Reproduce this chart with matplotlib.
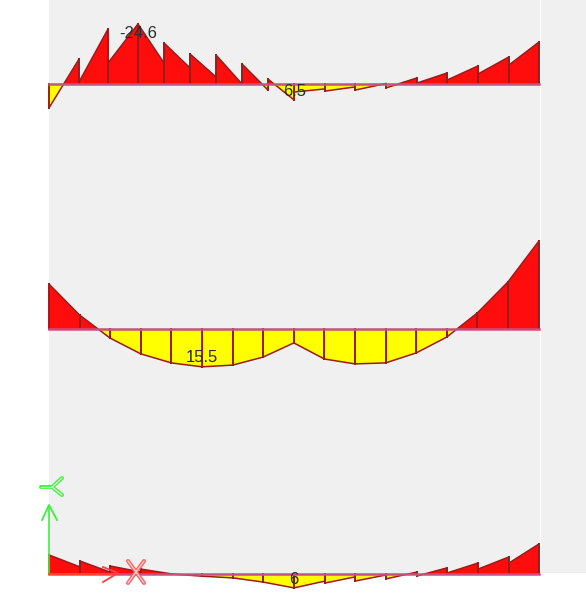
import matplotlib
matplotlib.use('Agg')
import matplotlib.pyplot as plt
from matplotlib.patches import Polygon, Rectangle

plt.rcParams['font.family'] = ['Liberation Sans', 'DejaVu Sans']

# stations along the beam
stations_top = [49, 79, 108, 138, 164, 190, 216, 242, 268, 294, 325, 355, 386, 417, 447, 478, 509, 539]
stations_mid = [49, 79.6, 110, 140.8, 171.4, 202, 232.6, 263.2, 293.8, 324.4, 355, 385.6, 416.2, 446.8, 477.4, 508, 539]
stations_bot = [49, 80, 110, 141, 172, 202, 233, 263, 294, 325, 355, 386, 417, 447, 478, 509, 539]

# moment values, start and end of every segment
top_start = [9.8, -0.8, -8.6, -24.6, -16.8, -12.3, -11.9, -8.2, -2.0, 3.3, 2.9, 2.5, 1.6, -0.4, -1.6, -4.1, -7.8]
top_end = [-10.2, -22.5, -24.6, -8.6, -6.6, -2.9, 0.0, 2.5, 6.5, 2.0, 1.2, -0.2, -2.5, -4.5, -7.4, -11.1, -17.2]

mid_values = [-18.4, -5.7, 3.7, 10.2, 13.9, 15.5, 14.8, 11.5, 5.7, 12.3, 14.3, 13.9, 9.8, 3.3, -6.6, -19.3, -36.1]

bot_start = [-7.8, -5.3, -3.3, -2.0, 0.0, 0.9, 1.6, 3.3, 5.7, 3.7, 2.9, 2.0, 0.8, -0.4, -2.0, -4.5]
bot_end = [-2.9, -0.8, -0.8, 0.0, 0.9, 1.6, 3.3, 5.7, 2.9, 1.2, 0.4, -0.8, -2.5, -4.5, -7.0, -12.3]

SCALE = 2.44
EDGE = '#9c1a1a'
BASE_COL = '#c4547c'


def draw_segment(ax, x0, x1, v0, v1, base):
    y0 = base + v0 * SCALE
    y1 = base + v1 * SCALE
    if v0 * v1 < 0:
        xc = x0 + (x1 - x0) * v0 / (v0 - v1)
        parts = [([(x0, base), (x0, y0), (xc, base)], v0), ([(xc, base), (x1, y1), (x1, base)], v1)]
    else:
        parts = [([(x0, base), (x0, y0), (x1, y1), (x1, base)], v0 + v1)]
    for pts, sign in parts:
        col = '#ff0d0d' if sign < 0 else '#ffff00'
        ax.add_patch(Polygon(pts, closed=True, facecolor=col, edgecolor='none', zorder=2))
    ax.plot([x0, x1], [y0, y1], color=EDGE, lw=1.1, zorder=3)
    ax.plot([x0, x0], [base, y0], color=EDGE, lw=1.4, zorder=3)
    ax.plot([x1, x1], [base, y1], color=EDGE, lw=1.4, zorder=3)


fig = plt.figure(figsize=(5.86, 6.13), dpi=100)
ax = fig.add_axes([0, 0, 1, 1])
ax.set_xlim(0, 586)
ax.set_ylim(613, 0)
ax.axis('off')

# background
ax.add_patch(Rectangle((49, 0), 490.5, 574, facecolor='#f0f0f0', edgecolor='none', zorder=0))
ax.add_patch(Rectangle((540.5, 0), 45.5, 573, facecolor='#f0f0f0', edgecolor='none', zorder=0))

# top diagram
for i in range(len(top_start)):
    draw_segment(ax, stations_top[i], stations_top[i + 1], top_start[i], top_end[i], 84)
ax.plot([49, 539], [84, 84], color=BASE_COL, lw=1.8, zorder=4)

# middle diagram
for i in range(len(mid_values) - 1):
    draw_segment(ax, stations_mid[i], stations_mid[i + 1], mid_values[i], mid_values[i + 1], 329)
ax.plot([49, 539], [329, 329], color=BASE_COL, lw=1.8, zorder=4)

# bottom diagram
for i in range(len(bot_start)):
    draw_segment(ax, stations_bot[i], stations_bot[i + 1], bot_start[i], bot_end[i], 574)
ax.plot([49, 539], [574, 574], color=BASE_COL, lw=1.8, zorder=4)

# labels
txt = dict(fontsize=12, color='#2b2b2b', ha='center', va='center', zorder=6)
ax.text(138, 34, '-24.6', **txt)
ax.text(294.5, 91.5, '6.5', **txt)
ax.text(202, 357.5, '15.5', **txt)
ax.text(294, 579.5, '6', **txt)

# axis triad
green = '#3cf03c'
ax.plot([49, 49], [574, 506], color=green, lw=1.2, zorder=5)
ax.plot([42, 49, 57], [520, 505, 520], color=green, lw=1.3, zorder=5)
red = '#ff4040'
ax.plot([49, 118], [574, 574], color=red, lw=1.2, zorder=5)
ax.plot([103, 118, 103], [567, 573, 582], color=red, lw=1.3, zorder=5)

# hollow glyphs at the axis ends
for xs, ys in [([41, 52], [487, 487]), ([52, 62], [487, 478]), ([52, 62], [487, 495])]:
    ax.plot(xs, ys, color=green, lw=2.8, solid_capstyle='round', zorder=5)
    ax.plot(xs, ys, color='#d8f8d8', lw=1.0, solid_capstyle='round', zorder=6)
for xs, ys in [([128, 144], [561, 583]), ([144, 128], [561, 583])]:
    ax.plot(xs, ys, color='#ff5a5a', lw=2.8, solid_capstyle='round', zorder=5)
    ax.plot(xs, ys, color='#ffd0d0', lw=1.0, solid_capstyle='round', zorder=6)

fig.savefig('out.png', dpi=100)
